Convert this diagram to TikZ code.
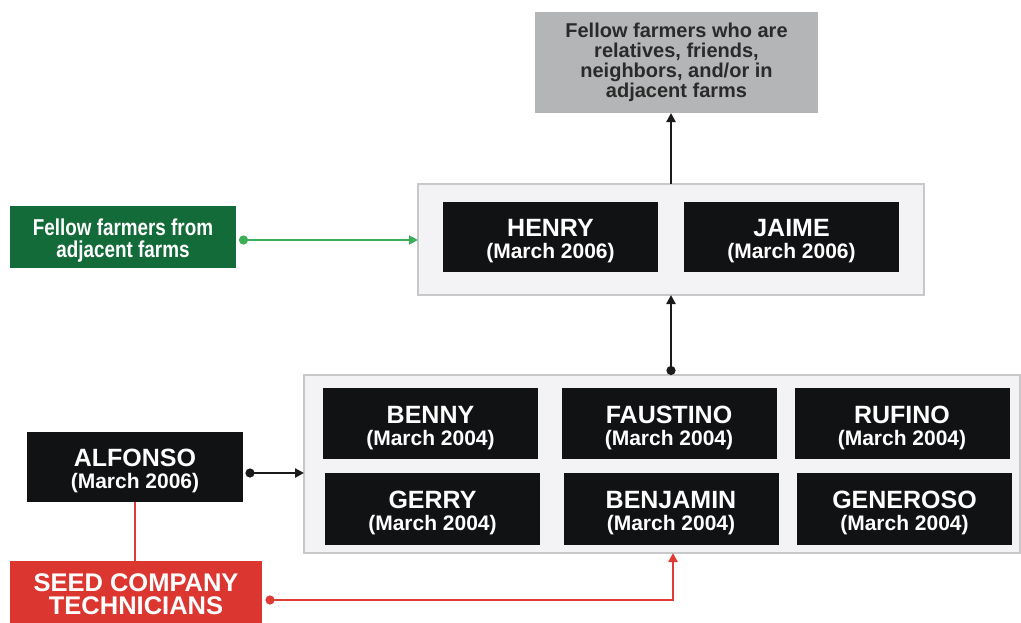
\documentclass[tikz,border=0pt]{standalone}
\usepackage{fontspec}
\setmainfont{Liberation Sans}
\newfontfamily\narrowsans{Liberation Sans}[FakeStretch=0.82]
\usetikzlibrary{arrows.meta}

\definecolor{boxblack}{HTML}{111214}
\definecolor{panelfill}{HTML}{F3F3F5}
\definecolor{panelline}{HTML}{C8C8CA}
\definecolor{greenbox}{HTML}{136B39}
\definecolor{greenline}{HTML}{3DAE58}
\definecolor{redbox}{HTML}{DC3630}
\definecolor{redline}{HTML}{E03C36}
\definecolor{graybox}{HTML}{B4B5B7}
\definecolor{graytext}{HTML}{2A2A2A}
\definecolor{inkline}{HTML}{1A1A1A}

% a farmer's name above the date of first planting
\newcommand{\entry}[2]{\rule{0pt}{26pt}#1\\{\fontsize{21}{22}\selectfont #2}}

\begin{document}
\begin{tikzpicture}[x=1pt,y=-1pt,
  panel/.style={draw=panelline, line width=1.5pt, fill=panelfill, inner sep=0pt, outer sep=0pt},
  namebox/.style={fill=boxblack, text=white, minimum width=215pt, minimum height=71pt,
    inner sep=0pt, outer sep=0pt, align=center, font=\bfseries\fontsize{25}{22}\selectfont},
  sourcebox/.style={inner sep=0pt, outer sep=0pt, align=center},
  link/.style={line width=2.6pt},
  dotarrow/.style={link, {Circle[length=9pt]}-{Triangle[length=9pt,width=9pt]}},
  plainarrow/.style={link, -{Triangle[length=9pt,width=9pt]}}
]
\clip (0,0) rectangle (1021,622);

% target group at the top
\node[sourcebox, fill=graybox, text=graytext, minimum width=283pt, minimum height=101pt,
  font=\bfseries\fontsize{20}{20}\selectfont] (peers) at (676.5,62.5)
  {Fellow farmers who are\\relatives, friends,\\neighbors, and/or in\\adjacent farms};

% second generation panel
\node[panel, minimum width=506pt, minimum height=111pt] (upper) at (671,239.5) {};
\node[namebox, minimum height=70pt] (henry) at (550.5,237) {\entry{HENRY}{(March 2006)}};
\node[namebox, minimum height=70pt] (jaime) at (791.5,237) {\entry{JAIME}{(March 2006)}};

% first generation panel
\node[panel, minimum width=716pt, minimum height=178pt] (lower) at (662,464) {};
\node[namebox] (benny)    at (430.5,423.5) {\entry{BENNY}{(March 2004)}};
\node[namebox] (faustino) at (669,423.5)   {\entry{FAUSTINO}{(March 2004)}};
\node[namebox] (rufino)   at (902,423.5)   {\entry{RUFINO}{(March 2004)}};
\node[namebox, minimum height=72pt] (gerry)    at (432.5,509) {\entry{GERRY}{(March 2004)}};
\node[namebox, minimum height=72pt] (benjamin) at (671,509)   {\entry{BENJAMIN}{(March 2004)}};
\node[namebox, minimum height=72pt] (generoso) at (904.5,509) {\entry{GENEROSO}{(March 2004)}};

% sources of seed and information
\node[sourcebox, fill=greenbox, text=white, minimum width=226pt, minimum height=62pt,
  font=\narrowsans\bfseries\fontsize{23}{22}\selectfont] (neighbors) at (123,237)
  {\rule{0pt}{23pt}Fellow farmers from\\adjacent farms};
\node[namebox, minimum width=216pt, minimum height=70pt] (alfonso) at (135,467)
  {\entry{ALFONSO}{(March 2006)}};
\node[sourcebox, fill=redbox, text=white, minimum width=252pt, minimum height=66pt,
  font=\bfseries\fontsize{25.5}{23}\selectfont] (seed) at (136,594)
  {SEED COMPANY\\TECHNICIANS};

% connectors
\draw[plainarrow, draw=inkline] (upper.north) -- (upper.north |- peers.south);
\draw[dotarrow, draw=inkline] (upper.south |- lower.north) -- (upper.south);
\draw[dotarrow, draw=greenline] ([xshift=3pt]neighbors.east |- 0,240) -- (upper.west |- 0,240);
\draw[dotarrow, draw=inkline] ([xshift=2.5pt]alfonso.east |- 0,473) -- (lower.west |- 0,473);
\draw[link, draw=redline] (alfonso.south) -- (alfonso.south |- seed.north);
\draw[dotarrow, draw=redline] ([xshift=3.5pt]seed.east |- 0,600) -| ([xshift=2pt]benjamin.south |- lower.south);
\end{tikzpicture}
\end{document}
